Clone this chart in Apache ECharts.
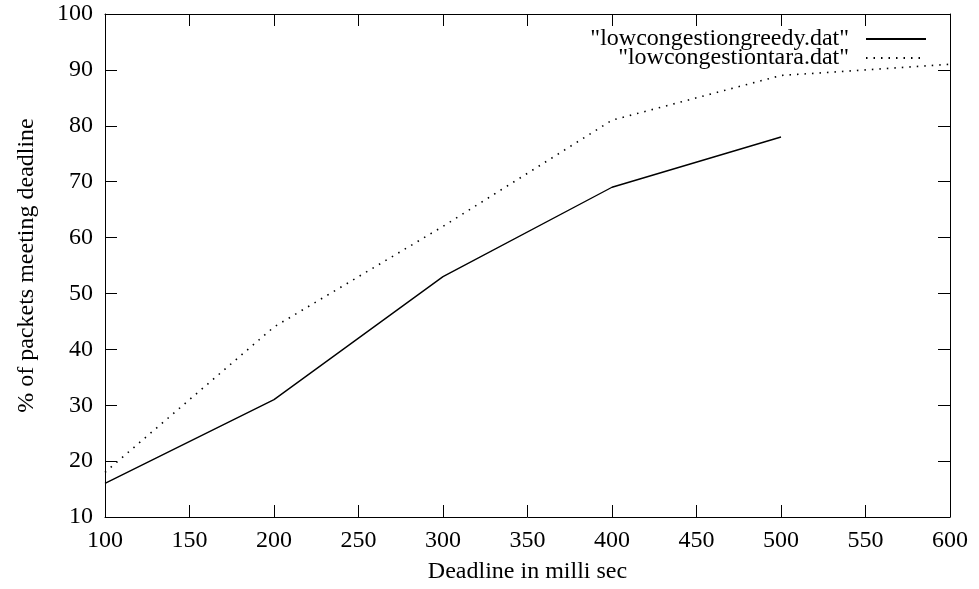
<!DOCTYPE html>
<html>
<head>
<meta charset="utf-8">
<script src="https://cdn.jsdelivr.net/npm/echarts@6/dist/echarts.min.js"></script>
<style>html,body{margin:0;padding:0;background:#fff}#c{width:979px;height:589px}</style>
</head>
<body>
<div id="c"></div>
<script>
var greedyX = [100, 200, 300, 400, 500];
var greedyY = [16, 31, 53, 69, 78];
var taraX = [100, 200, 300, 400, 500, 600];
var taraY = [18, 44, 62, 81, 89, 91];
var greedyName = '"lowcongestiongreedy.dat"';
var taraName = '"lowcongestiontara.dat"';
var xTitle = 'Deadline in milli sec';
var yTitle = '% of packets meeting deadline';

var FONT = "'Liberation Serif', 'Times New Roman', serif";
var FS = 24;
function pairs(xs, ys) { return xs.map(function (x, i) { return [x, ys[i]]; }); }

var chart = echarts.init(document.getElementById('c'), null, { renderer: 'canvas' });
var axisLine = { show: true, lineStyle: { color: '#000', width: 1 } };
var tick = { show: true, inside: true, length: 12, lineStyle: { color: '#000', width: 1 } };
function legendFor(name, top) {
  return { data: [name], right: 47, top: top, orient: 'vertical', align: 'right', itemWidth: 60, itemHeight: 14,
    itemStyle: { color: 'rgba(0,0,0,0)', borderWidth: 0, opacity: 0 },
    textStyle: { fontFamily: FONT, fontSize: FS, color: '#000', padding: [0, 12, 0, 0] }, selectedMode: false };
}
chart.setOption({
  animation: false,
  backgroundColor: '#fff',
  textStyle: { fontFamily: FONT },
  grid: { left: 105, right: 29, top: 14, bottom: 70 },
  legend: [legendFor(greedyName, 22), legendFor(taraName, 41)],
  xAxis: [
    { type: 'value', min: 100, max: 600, interval: 50, position: 'bottom',
      axisLine: axisLine, axisTick: tick, splitLine: { show: false },
      axisLabel: { fontFamily: FONT, fontSize: FS, color: '#000', margin: 12 },
      name: xTitle, nameLocation: 'middle', nameGap: 43,
      nameTextStyle: { fontFamily: FONT, fontSize: FS, color: '#000' } },
    { type: 'value', min: 100, max: 600, interval: 50, position: 'top',
      axisLine: axisLine, axisTick: tick, splitLine: { show: false }, axisLabel: { show: false } }
  ],
  yAxis: [
    { type: 'value', min: 10, max: 100, interval: 10, position: 'left',
      axisLine: axisLine, axisTick: tick, splitLine: { show: false },
      axisLabel: { fontFamily: FONT, fontSize: FS, color: '#000', margin: 12 },
      name: yTitle, nameLocation: 'middle', nameGap: 66, nameRotate: 90,
      nameTextStyle: { fontFamily: FONT, fontSize: FS, color: '#000' } },
    { type: 'value', min: 10, max: 100, interval: 10, position: 'right',
      axisLine: axisLine, axisTick: tick, splitLine: { show: false }, axisLabel: { show: false } }
  ],
  series: [
    { name: greedyName, type: 'line', data: pairs(greedyX, greedyY), showSymbol: false, symbol: 'none',
      lineStyle: { color: '#000', width: 1.4 }, itemStyle: { color: '#000' } },
    { name: taraName, type: 'line', data: pairs(taraX, taraY), showSymbol: false, symbol: 'none',
      lineStyle: { color: '#000', width: 1.6, type: [1.5, 6] }, itemStyle: { color: '#000' } }
  ]
});
</script>
</body>
</html>
